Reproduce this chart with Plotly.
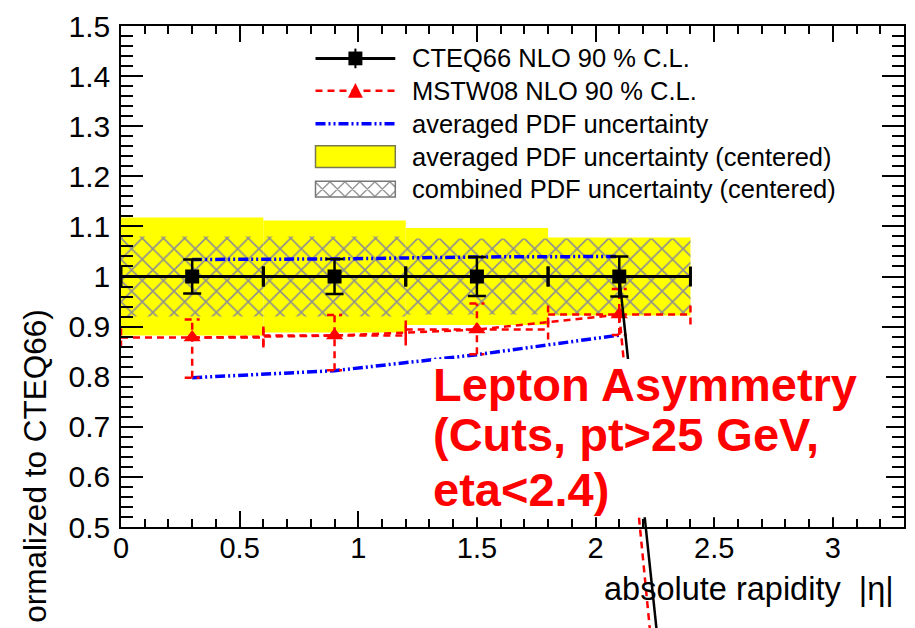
import plotly.graph_objects as go

# ---------------- data ----------------
BIN_LO = [0.0, 0.6, 1.2, 1.8]
BIN_HI = [0.6, 1.2, 1.8, 2.4]
BIN_CENTER = [0.3, 0.9, 1.5, 2.1]

CTEQ_VAL = [1.0, 1.0, 1.0, 1.0]
CTEQ_ERR = [0.034, 0.035, 0.039, 0.040]

MSTW_VAL = [0.878, 0.882, 0.894, 0.924]
MSTW_UP = [0.914, 0.923, 0.946, 0.975]
MSTW_LO = [0.798, 0.813, 0.845, 0.883]

AVG_UP = [1.034, 1.035, 1.039, 1.040]
AVG_LO = [0.798, 0.812, 0.844, 0.883]

AVG_CENTERED_HALF = [0.118, 0.112, 0.097, 0.078]
COMB_CENTERED_HALF = [0.080, 0.080, 0.076, 0.076]

# continuation of the graphs towards an off-scale point
TAIL_X = 2.7
CTEQ_TAIL = -1.69
MSTW_TAIL = -2.0

X_TICKS = [0, 0.5, 1, 1.5, 2, 2.5, 3]
X_TICK_TEXT = ["0", "0.5", "1", "1.5", "2", "2.5", "3"]
Y_TICKS = [0.5, 0.6, 0.7, 0.8, 0.9, 1.0, 1.1, 1.2, 1.3, 1.4, 1.5]
Y_TICK_TEXT = ["0.5", "0.6", "0.7", "0.8", "0.9", "1", "1.1", "1.2", "1.3", "1.4", "1.5"]

LEGEND_LABELS = [
    "CTEQ66 NLO 90 % C.L.",
    "MSTW08 NLO 90 % C.L.",
    "averaged PDF uncertainty",
    "averaged PDF uncertainty (centered)",
    "combined PDF uncertainty (centered)",
]
ANNOT_LINES = ["Lepton Asymmetry", "(Cuts, pt>25 GeV,", "eta<2.4)"]
X_TITLE = "absolute rapidity  |\u03b7|"
Y_TITLE = "ormalized to CTEQ66)"

# ---------------- layout constants ----------------
W, H = 915, 628
ML, MR, MT, MB = 121, 9, 17, 101
PW, PH = W - ML - MR, H - MT - MB
X_RANGE = [0, 3.3]
Y_RANGE = [0.5, 1.5]
FONT = "Liberation Sans, Arial, sans-serif"

def dx2p(x):
    return (x - X_RANGE[0]) / (X_RANGE[1] - X_RANGE[0])

def dy2p(y):
    return (y - Y_RANGE[0]) / (Y_RANGE[1] - Y_RANGE[0])

def px2p(px):
    return (px - ML) / PW

def py2p(py):
    return (H - MB - py) / PH

YU_PER_PX = (Y_RANGE[1] - Y_RANGE[0]) / PH
XU_PER_PX = (X_RANGE[1] - X_RANGE[0]) / PW

fig = go.Figure()

# yellow band (averaged, centered)
fig.add_trace(go.Bar(
    x=BIN_CENTER,
    y=[2 * e for e in AVG_CENTERED_HALF],
    base=[1 - e for e in AVG_CENTERED_HALF],
    width=[h - l for l, h in zip(BIN_LO, BIN_HI)],
    marker=dict(color="#ffff00", line=dict(width=0)),
    hoverinfo="skip",
))
# hatched band (combined, centered)
fig.add_trace(go.Bar(
    x=BIN_CENTER,
    y=[2 * e for e in COMB_CENTERED_HALF],
    base=[1 - e for e in COMB_CENTERED_HALF],
    width=[h - l for l, h in zip(BIN_LO, BIN_HI)],
    marker=dict(color="rgba(0,0,0,0)", line=dict(width=0),
                pattern=dict(shape="x", size=15, solidity=0.2,
                             fgcolor="#8f8f8f", bgcolor="rgba(0,0,0,0)",
                             fillmode="replace")),
    hoverinfo="skip",
))

BLUE_DASH = "10px,3px,2px,3px,2px,3px"
for arr in (AVG_UP, AVG_LO):
    fig.add_trace(go.Scatter(
        x=BIN_CENTER, y=arr, mode="lines",
        line=dict(color="#0000ff", width=3.5, dash=BLUE_DASH),
        hoverinfo="skip",
    ))

# MSTW dashed error bars
tick_half = 10 * YU_PER_PX
cap_half = 7.5 * XU_PER_PX
ex, ey = [], []
for lo, hi, c, v, up, dn in zip(BIN_LO, BIN_HI, BIN_CENTER, MSTW_VAL, MSTW_UP, MSTW_LO):
    ex += [lo, hi, None]; ey += [v, v, None]
    ex += [lo, lo, None]; ey += [v - tick_half, v + tick_half, None]
    ex += [hi, hi, None]; ey += [v - tick_half, v + tick_half, None]
    ex += [c, c, None]; ey += [dn, up, None]
    ex += [c - cap_half, c + cap_half, None]; ey += [up, up, None]
    ex += [c - cap_half, c + cap_half, None]; ey += [dn, dn, None]
RED_DASH = "7px,5px"
fig.add_trace(go.Scatter(
    x=ex, y=ey, mode="lines",
    line=dict(color="#ff0000", width=2.5, dash=RED_DASH),
    hoverinfo="skip",
))
fig.add_trace(go.Scatter(
    x=BIN_CENTER, y=MSTW_VAL, mode="lines+markers",
    line=dict(color="#ff0000", width=2.5, dash=RED_DASH),
    marker=dict(symbol="triangle-up", size=15, color="#ff0000"),
    hoverinfo="skip",
))

# CTEQ66
fig.add_trace(go.Scatter(
    x=BIN_CENTER, y=CTEQ_VAL, mode="lines+markers",
    line=dict(color="black", width=3),
    marker=dict(symbol="square", size=14, color="black"),
    error_x=dict(type="data", array=[c - l for l, c in zip(BIN_LO, BIN_CENTER)],
                 color="black", thickness=3, width=10),
    error_y=dict(type="data", array=CTEQ_ERR, color="black", thickness=2.5, width=9),
    hoverinfo="skip",
))

shapes = []
# tails running off the frame (drawn unclipped)
shapes.append(dict(type="line", xref="paper", yref="paper",
                   x0=dx2p(BIN_CENTER[-1]), y0=dy2p(MSTW_VAL[-1]),
                   x1=dx2p(TAIL_X), y1=dy2p(MSTW_TAIL),
                   line=dict(color="#ff0000", width=2.5, dash=RED_DASH), layer="above"))
shapes.append(dict(type="line", xref="paper", yref="paper",
                   x0=dx2p(BIN_CENTER[-1]), y0=dy2p(CTEQ_VAL[-1]),
                   x1=dx2p(TAIL_X), y1=dy2p(CTEQ_TAIL),
                   line=dict(color="black", width=2.5), layer="above"))
# white box behind the annotation
shapes.append(dict(type="rect", xref="paper", yref="paper",
                   x0=px2p(432), x1=px2p(888), y0=py2p(517), y1=py2p(356),
                   fillcolor="white", line=dict(width=0), layer="above"))

# ---------- legend (drawn by hand) ----------
LX0, LX1 = 316, 396
LXC = (LX0 + LX1) / 2
ROWS = [50, 83, 116.5, 150, 183]
# row 1 : CTEQ
shapes.append(dict(type="line", xref="paper", yref="paper",
                   x0=px2p(LX0), x1=px2p(LX1), y0=py2p(ROWS[0]), y1=py2p(ROWS[0]),
                   line=dict(color="black", width=3)))
shapes.append(dict(type="line", xref="paper", yref="paper",
                   x0=px2p(LXC), x1=px2p(LXC), y0=py2p(ROWS[0] - 10), y1=py2p(ROWS[0] + 10),
                   line=dict(color="black", width=2)))
shapes.append(dict(type="rect", xref="paper", yref="paper",
                   x0=px2p(LXC - 7), x1=px2p(LXC + 7), y0=py2p(ROWS[0] + 7), y1=py2p(ROWS[0] - 7),
                   fillcolor="black", line=dict(width=0)))
# row 2 : MSTW
shapes.append(dict(type="line", xref="paper", yref="paper",
                   x0=px2p(LX0), x1=px2p(LX1), y0=py2p(ROWS[1]), y1=py2p(ROWS[1]),
                   line=dict(color="#ff0000", width=2.5, dash=RED_DASH)))
tri = "M {} {} L {} {} L {} {} Z".format(
    px2p(LXC - 7.5), py2p(ROWS[1] + 7), px2p(LXC + 7.5), py2p(ROWS[1] + 7),
    px2p(LXC), py2p(ROWS[1] - 8))
shapes.append(dict(type="path", xref="paper", yref="paper", path=tri,
                   fillcolor="#ff0000", line=dict(width=0)))
# row 3 : blue
shapes.append(dict(type="line", xref="paper", yref="paper",
                   x0=px2p(LX0), x1=px2p(LX1), y0=py2p(ROWS[2]), y1=py2p(ROWS[2]),
                   line=dict(color="#0000ff", width=3.5, dash=BLUE_DASH)))
# row 4 : yellow box
shapes.append(dict(type="rect", xref="paper", yref="paper",
                   x0=px2p(LX0), x1=px2p(LX1), y0=py2p(ROWS[3] + 11), y1=py2p(ROWS[3] - 11),
                   fillcolor="#ffff00", line=dict(color="#7a7a50", width=1.5)))
# row 5 : hatched box
top, bot = ROWS[4] - 8, ROWS[4] + 8
hgt = bot - top
P = 15
segs = []
c = -hgt
while c < (LX1 - LX0):
    x1 = max(LX0, LX0 + c)
    x2 = min(LX1, LX0 + c + hgt)
    if x2 > x1:
        segs.append("M {} {} L {} {}".format(px2p(x1), py2p(top + (x1 - LX0 - c)),
                                              px2p(x2), py2p(top + (x2 - LX0 - c))))
        segs.append("M {} {} L {} {}".format(px2p(x1), py2p(bot - (x1 - LX0 - c)),
                                              px2p(x2), py2p(bot - (x2 - LX0 - c))))
    c += P
shapes.append(dict(type="path", xref="paper", yref="paper", path=" ".join(segs),
                   line=dict(color="#999999", width=1.5)))
shapes.append(dict(type="rect", xref="paper", yref="paper",
                   x0=px2p(LX0), x1=px2p(LX1), y0=py2p(bot), y1=py2p(top),
                   fillcolor="rgba(0,0,0,0)", line=dict(color="#777777", width=1.5)))

annotations = []
for lab, r in zip(LEGEND_LABELS, ROWS):
    annotations.append(dict(xref="paper", yref="paper", x=px2p(411), y=py2p(r),
                            xanchor="left", yanchor="middle", showarrow=False,
                            text=lab, font=dict(family=FONT, size=25.5, color="black")))

# red annotation text
for line, yc in zip(ANNOT_LINES, [381.5, 433, 489]):
    annotations.append(dict(xref="paper", yref="paper", x=px2p(432), y=py2p(yc),
                            xanchor="left", yanchor="middle", showarrow=False,
                            text="<b>" + line + "</b>",
                            font=dict(family=FONT, size=47, color="#ff0000")))

# axis titles
annotations.append(dict(xref="paper", yref="paper", x=px2p(898), y=py2p(590),
                        xanchor="right", yanchor="middle", showarrow=False,
                        text=X_TITLE, font=dict(family=FONT, size=32.5, color="black")))
annotations.append(dict(xref="paper", yref="paper", x=px2p(35), y=py2p(304),
                        xanchor="center", yanchor="top", showarrow=False, textangle=-90,
                        text=Y_TITLE, font=dict(family=FONT, size=31.5, color="black")))

fig.update_layout(
    width=W, height=H,
    margin=dict(l=ML, r=MR, t=MT, b=MB, pad=0),
    paper_bgcolor="white", plot_bgcolor="white",
    barmode="overlay", showlegend=False,
    shapes=shapes, annotations=annotations,
    font=dict(family=FONT, color="black"),
    xaxis=dict(range=X_RANGE, tickvals=X_TICKS, ticktext=X_TICK_TEXT,
               ticks="inside", ticklen=16, tickwidth=1.5, tickcolor="black",
               showline=True, linecolor="black", linewidth=1.5, mirror="ticks",
               showgrid=False, zeroline=False,
               tickfont=dict(family=FONT, size=29, color="black"),
               ticklabelstandoff=-6,
               minor=dict(dtick=0.1, tick0=0, ticks="inside", ticklen=8,
                          tickwidth=1.5, tickcolor="black", showgrid=False)),
    yaxis=dict(range=Y_RANGE, tickvals=Y_TICKS, ticktext=Y_TICK_TEXT,
               ticks="inside", ticklen=22, tickwidth=1.5, tickcolor="black",
               showline=True, linecolor="black", linewidth=1.5, mirror="ticks",
               showgrid=False, zeroline=False,
               tickfont=dict(family=FONT, size=30, color="black"),
               ticklabelstandoff=3,
               minor=dict(dtick=0.02, tick0=0.5, ticks="inside", ticklen=12,
                          tickwidth=1.5, tickcolor="black", showgrid=False)),
)

fig.write_html("out.html")
